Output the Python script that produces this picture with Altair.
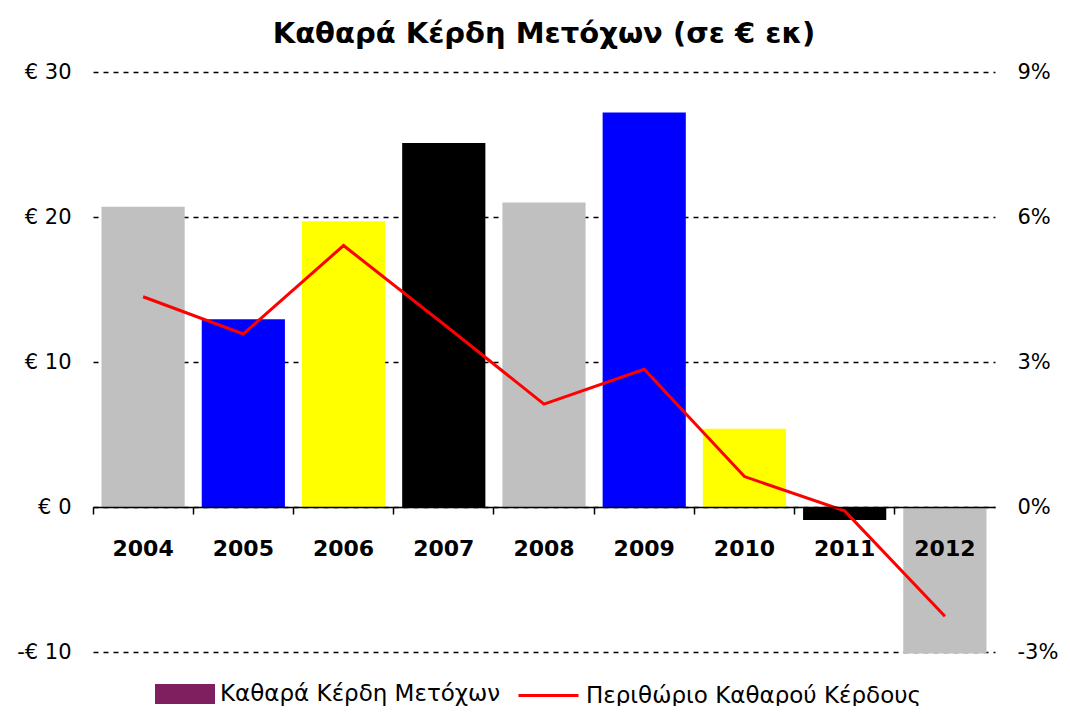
import altair as alt
import pandas as pd

years = ["2004", "2005", "2006", "2007", "2008", "2009", "2010", "2011", "2012"]
profits = [20.7, 12.95, 19.7, 25.1, 21.0, 27.2, 5.4, -0.9, -10.1]
margin_pct = [4.35, 3.58, 5.41, 3.78, 2.13, 2.85, 0.63, -0.08, -2.26]
bar_colors = ["#C0C0C0", "#0000FF", "#FFFF00", "#000000", "#C0C0C0",
              "#0000FF", "#FFFF00", "#000000", "#C0C0C0"]
title_text = "Καθαρά Κέρδη Μετόχων (σε € εκ)"
bar_series = "Καθαρά Κέρδη Μετόχων"
line_series = "Περιθώριο Καθαρού Κέρδους"

df = pd.DataFrame({"year": years, "profit": profits, "margin": margin_pct,
                   "bar_series": [bar_series] * len(years),
                   "line_series": [line_series] * len(years)})

FONT = "DejaVu Sans"

x_enc = alt.X("year:N", sort=years,
              scale=alt.Scale(paddingInner=0, paddingOuter=0),
              axis=alt.Axis(title=None, orient="bottom", offset=-145, bandPosition=0,
                            labelOffset=0, domainColor="#000000", domainWidth=1.5,
                            tickColor="#000000", tickWidth=1.5, tickSize=7,
                            labelFont=FONT, labelFontSize=22, labelFontWeight="bold",
                            labelColor="#000000", labelPadding=24, zindex=2,
                            labelAngle=0))

bars = alt.Chart(df).mark_bar(width=alt.RelativeBandSize(0.83)).encode(
    x=x_enc,
    y=alt.Y("profit:Q",
            scale=alt.Scale(domain=[-10, 30], nice=False, zero=False),
            axis=alt.Axis(title=None, orient="left", values=[-10, 0, 10, 20, 30],
                          labelExpr="datum.value < 0 ? '-€ ' + abs(datum.value) : '€ ' + datum.value",
                          domain=False, ticks=False, labelPadding=22,
                          labelFont=FONT, labelFontSize=21, labelColor="#000000",
                          grid=True, gridDash=[5, 5], gridColor="#000000", gridWidth=1.5)),
    color=alt.Color("year:N", sort=years,
                    scale=alt.Scale(domain=years, range=bar_colors), legend=None),
)

legend_swatch = alt.Chart(df).mark_point(filled=True, opacity=0).encode(
    x=alt.X("year:N", sort=years),
    y=alt.Y("profit:Q"),
    fill=alt.Fill("bar_series:N", scale=alt.Scale(domain=[bar_series], range=["#7F1F5F"]),
                  legend=alt.Legend(title=None, orient="none", legendX=72, legendY=602,
                                    symbolType="M-1.5,-0.5L1.5,-0.5L1.5,0.5L-1.5,0.5Z",
                                    symbolSize=1600, symbolOpacity=1, symbolStrokeWidth=0,
                                    labelOffset=15, labelFont=FONT, labelFontSize=23,
                                    labelLimit=0, labelColor="#000000")),
)

bar_layer = alt.layer(bars, legend_swatch)

line = alt.Chart(df).mark_line(strokeWidth=3).encode(
    x=alt.X("year:N", sort=years),
    y=alt.Y("margin:Q",
            scale=alt.Scale(domain=[-3, 9], nice=False, zero=False),
            axis=alt.Axis(title=None, orient="right", values=[-3, 0, 3, 6, 9],
                          labelExpr="datum.value + '%'",
                          domain=False, ticks=False, labelPadding=22, grid=False,
                          labelFont=FONT, labelFontSize=21, labelColor="#000000")),
    stroke=alt.Stroke("line_series:N", scale=alt.Scale(domain=[line_series], range=["#FF0000"]),
                      legend=alt.Legend(title=None, orient="none", legendX=424, legendY=592,
                                        symbolType="stroke", symbolSize=3600,
                                        symbolStrokeWidth=3, labelOffset=6,
                                        labelFont=FONT, labelFontSize=23, labelLimit=0,
                                        labelColor="#000000")),
)

chart = alt.layer(bar_layer, line).resolve_scale(y="independent").properties(
    width=902, height=580,
    autosize=alt.AutoSizeParams(type="none"),
    padding={"left": 85, "top": 64, "right": 67, "bottom": 54},
    title=alt.TitleParams(title_text, font=FONT, fontSize=29, fontWeight="bold",
                          color="#000000", anchor="middle", offset=12),
).configure_view(stroke=None)

chart.save("out.html", embed_options={"renderer": "svg", "actions": False})
